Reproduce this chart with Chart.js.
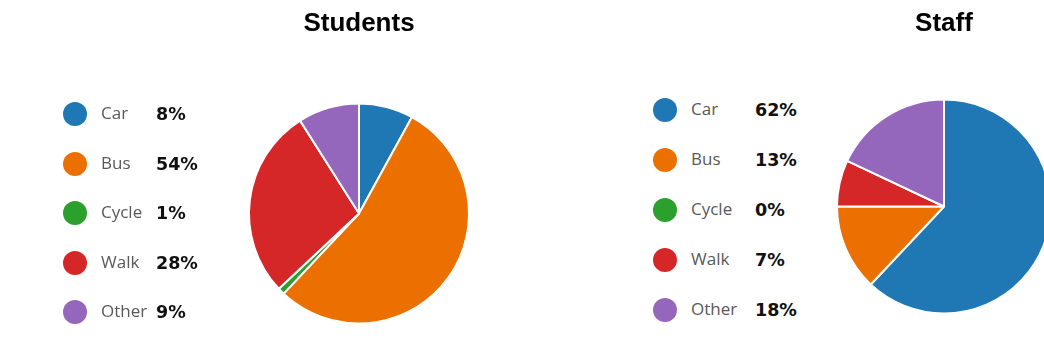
<!DOCTYPE html>
<html>
<head>
<meta charset="utf-8">
<script src="https://cdn.jsdelivr.net/npm/chart.js@4/dist/chart.umd.min.js"></script>
<style>
  html, body { margin: 0; padding: 0; background: #fff; }
  body { width: 1044px; height: 357px; overflow: hidden; position: relative; }
  canvas { position: absolute; top: 0; }
  .row { position: absolute; height: 24px; width: 160px; }
  .dot { width: 24px; height: 24px; border-radius: 50%; position: absolute; left: 0; top: 0; }
  .lab { position: absolute; left: 38px; font-family: "Open Sans", sans-serif; font-size: 17px; color: #595959; white-space: nowrap; line-height: 24px; top: -1px; }
  .pct { position: absolute; font-family: "DejaVu Sans", sans-serif; font-weight: bold; font-size: 17.5px; color: #111; white-space: nowrap; line-height: 24px; top: 0; }
</style>
</head>
<body>
<canvas id="students" width="300" height="357" style="left:209px"></canvas>
<canvas id="staff" width="240" height="357" style="left:824px"></canvas>
<div id="legStudents"></div>
<div id="legStaff"></div>
<script>
const categories = ["Car", "Bus", "Cycle", "Walk", "Other"];
const studentsValues = [8, 54, 1, 28, 9];
const staffValues = [62, 13, 0, 7, 18];
const titles = ["Students", "Staff"];
const colors = ["#1f77b4", "#ec7000", "#2ca02c", "#d62728", "#9467bd"];

function makePie(id, title, values, radius, titleBottom) {
  new Chart(document.getElementById(id), {
    type: "pie",
    data: {
      labels: categories,
      datasets: [{
        data: values,
        backgroundColor: colors,
        borderColor: "#ffffff",
        borderWidth: 2
      }]
    },
    options: {
      responsive: false,
      animation: false,
      radius: radius,
      layout: { padding: 0 },
      plugins: {
        legend: { display: false },
        tooltip: { enabled: false },
        title: {
          display: true,
          text: title,
          color: "#000",
          font: { family: "'Liberation Sans', Arial, sans-serif", size: 26, weight: "bold", lineHeight: 1.2 },
          padding: { top: 8, bottom: titleBottom }
        }
      }
    }
  });
}

makePie("students", titles[0], studentsValues, 110, 30.8);
makePie("staff", titles[1], staffValues, 107, 16.8);

function makeLegend(containerId, values, left, top, step, pctLeft) {
  const c = document.getElementById(containerId);
  categories.forEach((cat, i) => {
    const row = document.createElement("div");
    row.className = "row";
    row.style.left = left + "px";
    row.style.top = (top + i * step - 12) + "px";
    const dot = document.createElement("div");
    dot.className = "dot";
    dot.style.background = colors[i];
    const lab = document.createElement("span");
    lab.className = "lab";
    lab.textContent = cat;
    const pct = document.createElement("span");
    pct.className = "pct";
    pct.style.left = pctLeft + "px";
    pct.textContent = values[i] + "%";
    row.appendChild(dot);
    row.appendChild(lab);
    row.appendChild(pct);
    c.appendChild(row);
  });
}

makeLegend("legStudents", studentsValues, 63, 114, 49.5, 93);
makeLegend("legStaff", staffValues, 653, 110, 50, 102);
</script>
</body>
</html>
